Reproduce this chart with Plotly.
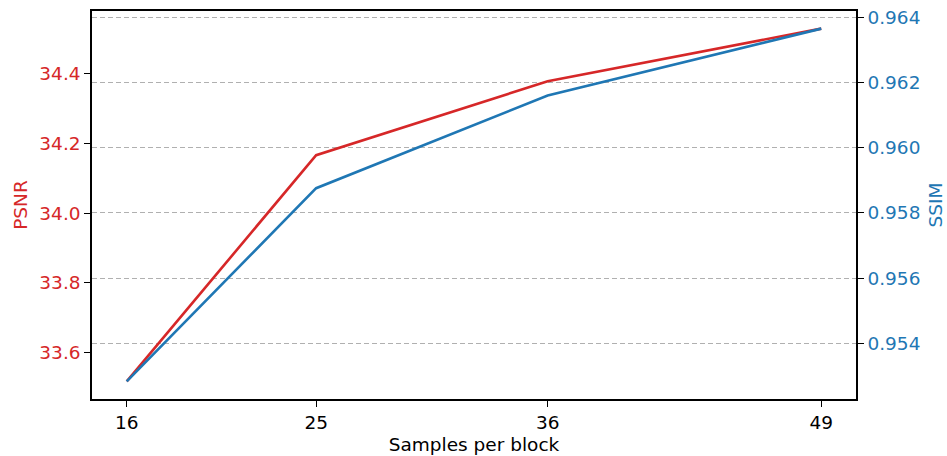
import plotly.graph_objects as go

samples = [16, 25, 36, 49]
psnr = [33.517, 34.166, 34.378, 34.529]
ssim = [0.95284, 0.95876, 0.96160, 0.96365]
x_ticks = [16, 25, 36, 49]

red = "#d62728"
blue = "#1f77b4"
font = "DejaVu Sans"
fs = 18.5

fig = go.Figure()
fig.add_trace(go.Scatter(x=samples, y=psnr, mode="lines", line=dict(color=red, width=2.6),
                         yaxis="y", showlegend=False))
fig.add_trace(go.Scatter(x=samples, y=ssim, mode="lines", line=dict(color=blue, width=2.6),
                         yaxis="y2", showlegend=False))

tick_common = dict(ticks="outside", ticklen=6, tickwidth=1.4, tickcolor="black",
                   showline=True, linecolor="black", linewidth=1.5, zeroline=False,
                   automargin=False)

fig.update_layout(
    width=947, height=456,
    margin=dict(l=92, r=91, t=11, b=57),
    paper_bgcolor="white", plot_bgcolor="white",
    font=dict(family=font, size=fs, color="black"),
    xaxis=dict(range=[14.35, 50.65], tickvals=x_ticks, showgrid=False, mirror=True,
               title=dict(text="Samples per block", font=dict(size=fs, color="black"), standoff=6),
               tickfont=dict(size=fs, color="black"), **tick_common),
    yaxis=dict(range=[33.4665, 34.5795], dtick=0.2, tick0=33.6, tickformat=".1f", showgrid=False,
               tickfont=dict(size=fs, color=red),
               title=dict(text="PSNR", font=dict(size=fs, color=red), standoff=7),
               **tick_common),
    yaxis2=dict(range=[0.95230, 0.96419], dtick=0.002, tick0=0.954, tickformat=".3f",
                overlaying="y", side="right", showgrid=True, gridcolor="#b0b0b0",
                griddash="5px,3px", gridwidth=1.3,
                tickfont=dict(size=fs, color=blue),
                title=dict(text="SSIM", font=dict(size=fs, color=blue), standoff=10),
                **tick_common),
)

fig.write_html("out.html")
